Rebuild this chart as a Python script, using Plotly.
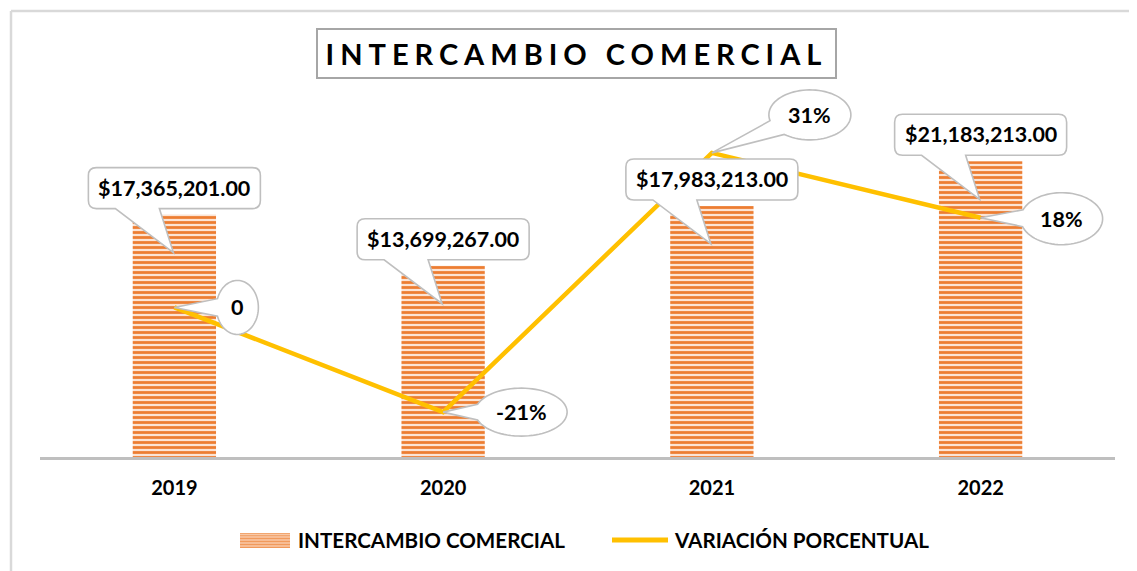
import math
import plotly.graph_objects as go

# ---------------- data ----------------
years = ["2019", "2020", "2021", "2022"]
intercambio = [17365201.00, 13699267.00, 17983213.00, 21183213.00]
variacion = [0.0, -0.21, 0.31, 0.18]
bar_name = "INTERCAMBIO COMERCIAL"
line_name = "VARIACIÓN PORCENTUAL"
title_text = "INTERCAMBIO COMERCIAL"

bar_labels = [f"${v:,.2f}" for v in intercambio]
pct_labels = ["0" if v == 0 else f"{v:.0%}" for v in variacion]

# ---------------- styles ----------------
ORANGE = "#ED7D31"
YELLOW = "#FFC000"
CALLOUT_LINE = "#BFBFBF"
FONT = "Lato"

# percent-callout geometry (pixels, y up): centre dx, dy, radius x, radius y
pct_geom = [(63, 0, 21, 27), (78, 0, 46, 24), (98, 38, 41, 25), (81, -1, 41, 26)]

# axis extents: primary 0..25M and secondary -0.3..0.4 over the lower 349 px,
# extra headroom above so the callouts are not clipped
PLOT_H = 377
BASE_H = 349
y_max = 25e6 * PLOT_H / BASE_H
y2_min, y2_base_max = -0.3, 0.4
y2_max = y2_min + (y2_base_max - y2_min) * PLOT_H / BASE_H


def py(y_ref):
    """paper y from a reference pixel row (axis line at row 457)."""
    return (457 - y_ref) / PLOT_H


def px(x_ref):
    return (x_ref - 40) / 1075


def ellipse_callout(cx, cy, rx, ry, tx, ty, delta=0.33, n=72):
    a = math.atan2((ty - cy) / ry, (tx - cx) / rx)
    pts = []
    for k in range(n + 1):
        t = a + delta + k * (2 * math.pi - 2 * delta) / n
        pts.append((cx + rx * math.cos(t), cy + ry * math.sin(t)))
    d = "M%.2f,%.2f " % pts[0] + " ".join("L%.2f,%.2f" % p for p in pts[1:])
    d += " L%.2f,%.2f Z" % (tx, ty)
    return d


def rect_callout(x0, y0, x1, y1, r, bx0, bx1, tx, ty):
    return (
        f"M{x0 + r},{y1} L{x1 - r},{y1} Q{x1},{y1} {x1},{y1 - r} "
        f"L{x1},{y0 + r} Q{x1},{y0} {x1 - r},{y0} "
        f"L{bx1},{y0} L{tx},{ty} L{bx0},{y0} "
        f"L{x0 + r},{y0} Q{x0},{y0} {x0},{y0 + r} "
        f"L{x0},{y1 - r} Q{x0},{y1} {x0 + r},{y1} Z"
    )


fig = go.Figure()

fig.add_trace(go.Bar(
    x=years, y=intercambio, name=bar_name, width=0.31,
    marker=dict(
        color="#FBE0CC",
        line=dict(width=0),
        pattern=dict(shape="-", fgcolor=ORANGE, bgcolor="#FCE4D4",
                     size=5, solidity=0.55, fillmode="replace"),
    ),
    hoverinfo="skip", showlegend=False,
))

fig.add_trace(go.Scatter(
    x=years, y=variacion, name=line_name, yaxis="y2", mode="lines",
    line=dict(color=YELLOW, width=4.5),
    hoverinfo="skip", showlegend=False,
))

shapes = []
annotations = []
label_font = dict(family=FONT, size=21.5, color="black", weight="bold")

# bar value callouts (positioned on the category index of the x axis)
for i, (v, lab) in enumerate(zip(intercambio, bar_labels)):
    path = rect_callout(-86, 6, 86, 47, 8, -59, -15, -1, -38)
    shapes.append(dict(
        type="path", xref="x", yref="y", xsizemode="pixel", ysizemode="pixel",
        xanchor=i, yanchor=v, path=path,
        fillcolor="white", line=dict(color=CALLOUT_LINE, width=1.6), layer="above",
    ))
    annotations.append(dict(
        x=i, y=v, xref="x", yref="y", text=lab, showarrow=False,
        xshift=0, yshift=27, font=label_font,
    ))

# percent callouts
for i, (v, lab, (cx, cy, rx, ry)) in enumerate(zip(variacion, pct_labels, pct_geom)):
    path = ellipse_callout(cx, cy, rx, ry, 0, 0)
    shapes.append(dict(
        type="path", xref="x", yref="y2", xsizemode="pixel", ysizemode="pixel",
        xanchor=i, yanchor=v, path=path,
        fillcolor="white", line=dict(color=CALLOUT_LINE, width=1.6), layer="above",
    ))
    annotations.append(dict(
        x=i, y=v, xref="x", yref="y2", text=lab, showarrow=False,
        xshift=cx, yshift=cy, font=label_font,
    ))

# title box
annotations.append(dict(
    x=0.5, y=py(53.5), xref="paper", yref="paper",
    text=f'<span style="letter-spacing:6px">{title_text}</span>',
    showarrow=False, xanchor="center", yanchor="middle", xshift=-1,
    font=dict(family=FONT, size=29, color="black", weight="bold"),
    bordercolor="#A6A6A6", borderwidth=2, borderpad=6, width=505,
    bgcolor="white",
))

# custom legend (paper coordinates)
legend_font = dict(family=FONT, size=20.6, color="black", weight="bold")
shapes.append(dict(type="rect", xref="paper", yref="paper",
                   x0=px(240), x1=px(290), y0=py(548), y1=py(533),
                   fillcolor="#F19A5C", line=dict(width=0)))
for yy in (546, 543, 540, 537, 534.5):
    shapes.append(dict(type="line", xref="paper", yref="paper",
                       x0=px(240), x1=px(290), y0=py(yy), y1=py(yy),
                       line=dict(color="#F8C9A8", width=1.3)))
annotations.append(dict(x=px(296), y=py(540), xref="paper", yref="paper",
                        xanchor="left", yanchor="middle", showarrow=False,
                        text=bar_name, font=legend_font))
shapes.append(dict(type="line", xref="paper", yref="paper",
                   x0=px(612), x1=px(668), y0=py(540), y1=py(540),
                   line=dict(color=YELLOW, width=5)))
annotations.append(dict(x=px(672), y=py(540), xref="paper", yref="paper",
                        xanchor="left", yanchor="middle", showarrow=False,
                        text=line_name, font=legend_font))

# outer chart border (left and top edges)
shapes.append(dict(type="line", xref="paper", yref="paper",
                   x0=px(11), x1=px(11), y0=py(11), y1=py(600),
                   line=dict(color="#D9D9D9", width=2.5)))
shapes.append(dict(type="line", xref="paper", yref="paper",
                   x0=px(11), x1=px(1200), y0=py(11), y1=py(11),
                   line=dict(color="#D9D9D9", width=2.5)))

fig.update_layout(
    width=1129, height=563,
    margin=dict(l=32, r=22, t=72, b=114, autoexpand=False),
    paper_bgcolor="white", plot_bgcolor="white",
    showlegend=False,
    xaxis=dict(type="category", range=[-0.5, 3.5], showline=True,
               linecolor="#BFBFBF", linewidth=3, showgrid=False, ticks="",
               tickfont=dict(family=FONT, size=20, color="black", weight="bold"),
               ticklabelstandoff=11, zeroline=False),
    yaxis=dict(range=[0, y_max], visible=False, showgrid=False, zeroline=False),
    yaxis2=dict(range=[y2_min, y2_max], overlaying="y", side="right", visible=False,
                showgrid=False, zeroline=False),
    shapes=shapes,
    annotations=annotations,
)

fig.write_html("out.html")
